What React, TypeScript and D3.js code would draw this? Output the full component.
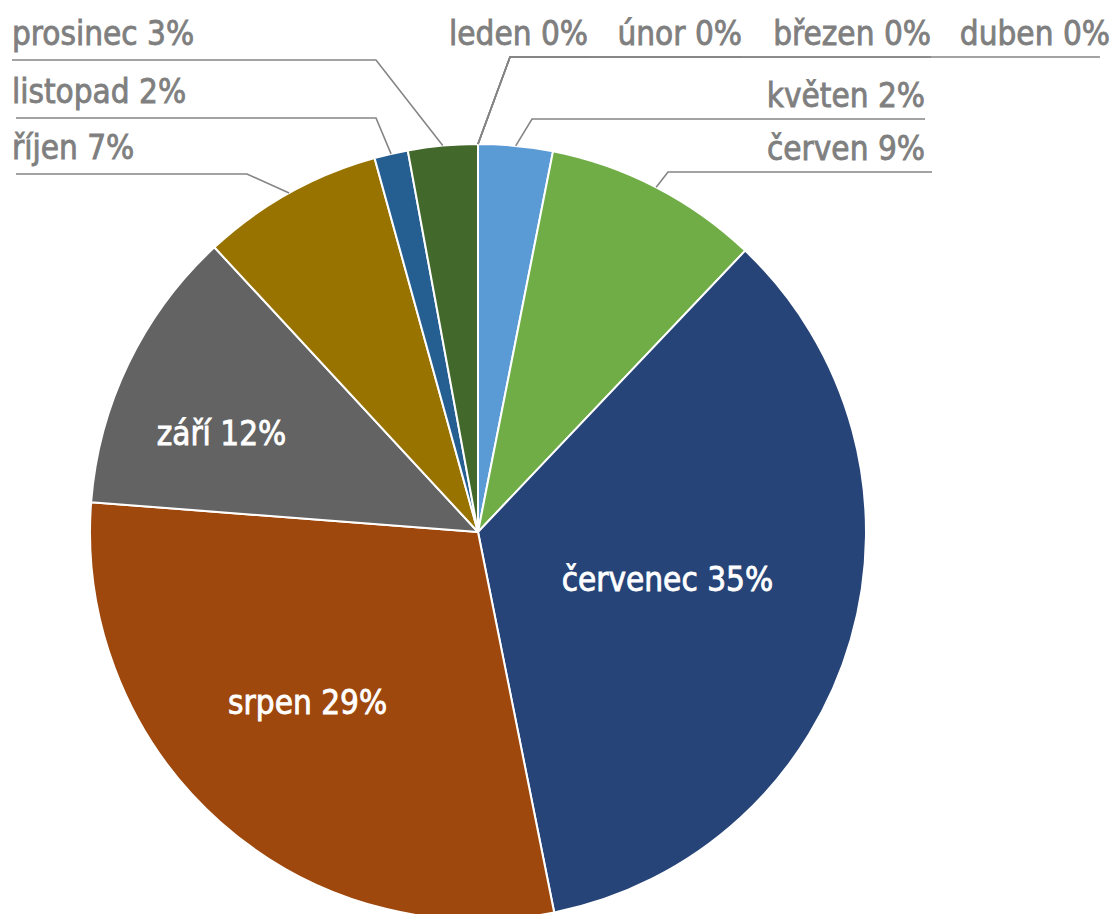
import React from "react";
import * as d3 from "d3";

const months = ["leden", "únor", "březen", "duben", "květen", "červen", "červenec", "srpen", "září", "říjen", "listopad", "prosinec"];
const values = [0, 0, 0, 0, 3.1, 9.0, 34.8, 29.4, 11.9, 7.6, 1.4, 2.9];
const labelPct = ["0%", "0%", "0%", "0%", "2%", "9%", "35%", "29%", "12%", "7%", "2%", "3%"];
const colors = ["#5B9BD5", "#ED7D31", "#A5A5A5", "#FFC000", "#5B9BD5", "#70AD47", "#264478", "#9E480E", "#636363", "#997300", "#255E91", "#43682B"];

type Layout =
  | { kind: "out"; side: "L" | "R"; x: number; y: number; lineY: number; elbowX: number; lineEnd: number }
  | { kind: "in"; k: number; nx: number; ny: number };

const layout: Layout[] = [
  { kind: "out", side: "R", x: 588, y: 45, lineY: 57, elbowX: 510, lineEnd: 588 },
  { kind: "out", side: "R", x: 742, y: 45, lineY: 57, elbowX: 510, lineEnd: 742 },
  { kind: "out", side: "R", x: 931, y: 45, lineY: 57, elbowX: 510, lineEnd: 931 },
  { kind: "out", side: "R", x: 1110, y: 45, lineY: 57, elbowX: 510, lineEnd: 1100 },
  { kind: "out", side: "R", x: 925, y: 107, lineY: 119, elbowX: 532, lineEnd: 925 },
  { kind: "out", side: "R", x: 925, y: 160, lineY: 172, elbowX: 668, lineEnd: 932 },
  { kind: "in", k: 0.5, nx: 3, ny: -6 },
  { kind: "in", k: 0.6, nx: -16, ny: -4 },
  { kind: "in", k: 0.68, nx: -19, ny: 16 },
  { kind: "out", side: "L", x: 12, y: 159, lineY: 174, elbowX: 247, lineEnd: 16 },
  { kind: "out", side: "L", x: 12, y: 103, lineY: 118, elbowX: 376, lineEnd: 16 },
  { kind: "out", side: "L", x: 12, y: 45, lineY: 60, elbowX: 376, lineEnd: 12 },
];

const W = 1118;
const H = 914;
const cx = 478;
const cy = 532;
const R = 388;
const FONT = "'DejaVu Sans Condensed', 'Liberation Sans Narrow', sans-serif";

export default function App() {
  const pie = d3.pie<number>().sort(null).value((d) => d);
  const arcs = pie(values);
  const arcGen = d3.arc<d3.PieArcDatum<number>>().innerRadius(0).outerRadius(R);

  const pointAt = (a: number, r: number) => [Math.sin(a) * r, -Math.cos(a) * r];

  return (
    <svg width={W} height={H} style={{ position: "absolute", left: 0, top: 0 }} fontFamily={FONT}>
      <rect width={W} height={H} fill="#ffffff" />
      <g transform={`translate(${cx},${cy})`}>
        {arcs.map((a, i) => (
          <path key={i} d={arcGen(a) || ""} fill={colors[i]} stroke="#ffffff" strokeWidth={2} strokeLinejoin="round" />
        ))}
      </g>
      {arcs.map((a, i) => {
        const L = layout[i];
        const mid = (a.startAngle + a.endAngle) / 2;
        const text = `${months[i]} ${labelPct[i]}`;
        if (L.kind === "in") {
          const [px, py] = pointAt(mid, R * L.k);
          return (
            <text key={i} x={cx + px + L.nx} y={cy + py + L.ny} dy="0.35em" textAnchor="middle" fill="#ffffff" stroke="#ffffff" strokeWidth={0.8} fontSize={33} fontWeight={400}>
              {text}
            </text>
          );
        }
        const [px, py] = pointAt(mid, R);
        const sx = cx + px;
        const sy = cy + py;
        const pts = `${sx},${sy} ${L.elbowX},${L.lineY} ${L.lineEnd},${L.lineY}`;
        return (
          <g key={i}>
            <polyline points={pts} fill="none" stroke="#858585" strokeWidth={1.6} />
            <text x={L.x} y={L.y} textAnchor={L.side === "R" ? "end" : "start"} fill="#7f7f7f" stroke="#7f7f7f" strokeWidth={0.8} fontSize={33} fontWeight={400}>
              {text}
            </text>
          </g>
        );
      })}
    </svg>
  );
}
